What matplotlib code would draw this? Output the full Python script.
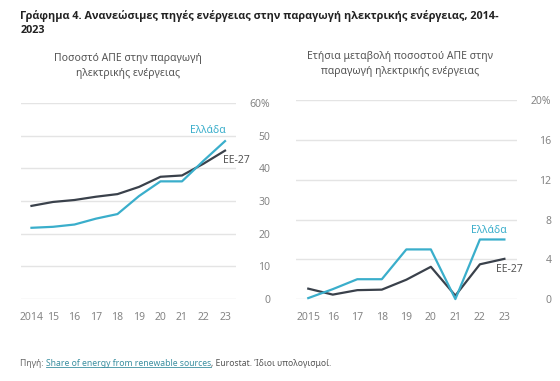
#! /usr/bin/env python3

import matplotlib
matplotlib.use('Agg')
import matplotlib.pyplot as plt
from matplotlib.lines import Line2D

plt.rcParams['font.family'] = ['Noto Sans', 'DejaVu Sans']

# Share of RES in electricity generation (%)
years_share = [2014, 2015, 2016, 2017, 2018, 2019, 2020, 2021, 2022, 2023]
share_labels = ['2014', '15', '16', '17', '18', '19', '20', '21', '22', '23']
greece_share = [21.8, 22.1, 22.8, 24.6, 26.0, 31.5, 36.0, 36.0, 42.3, 48.3]
eu_share = [28.5, 29.7, 30.3, 31.3, 32.1, 34.3, 37.4, 37.8, 41.4, 45.4]

# Annual change of RES share (%)
years_change = [2015, 2016, 2017, 2018, 2019, 2020, 2021, 2022, 2023]
change_labels = ['2015', '16', '17', '18', '19', '20', '21', '22', '23']
greece_change = [0.1, 1.0, 2.0, 2.0, 5.0, 5.0, 0.0, 6.0, 6.0]
eu_change = [1.05, 0.45, 0.9, 0.95, 1.95, 3.25, 0.35, 3.5, 4.05]

teal = '#3aaecb'
dark = '#3a414b'
grey = '#858585'
grid_c = '#e4e4e4'

fig = plt.figure(figsize=(5.6, 3.81), dpi=100)
ax1 = fig.add_axes([0.037, 0.215, 0.384, 0.515])
ax2 = fig.add_axes([0.5286, 0.215, 0.394, 0.5215])


def style(ax, xs, xlabels, yticks, ylabels, xlim):
    ax.set_xlim(*xlim)
    ax.set_ylim(yticks[0], yticks[-1])
    ax.set_xticks(xs)
    ax.set_xticklabels(xlabels)
    ax.set_yticks(yticks)
    ax.set_yticklabels(ylabels, ha='right')
    ax.yaxis.tick_right()
    for s in ax.spines.values():
        s.set_visible(False)
    ax.grid(axis='y', color=grid_c, linewidth=1)
    ax.set_axisbelow(True)
    ax.tick_params(axis='both', length=0, labelsize=7.5, colors=grey)
    ax.tick_params(axis='x', pad=9)
    ax.tick_params(axis='y', pad=25)


ax1.plot(years_share, eu_share, color=dark, lw=1.6, clip_on=False)
ax1.plot(years_share, greece_share, color=teal, lw=1.6, clip_on=False)
style(ax1, years_share, share_labels, [0, 10, 20, 30, 40, 50, 60],
      ['0', '10', '20', '30', '40', '50', '60%'], (2013.5, 2023.5))
ax1.text(2023.05, 51.5, 'Ελλάδα', color=teal, fontsize=7.5, ha='right', va='center')
ax1.text(2022.9, 42.3, 'ΕΕ-27', color='#555555', fontsize=7.5, ha='left', va='center')
ax1.set_title('Ποσοστό ΑΠΕ στην παραγωγή\nηλεκτρικής ενέργειας',
              fontsize=7.5, color='#555555', pad=19, linespacing=1.5)

ax2.plot(years_change, eu_change, color=dark, lw=1.6, clip_on=False)
ax2.plot(years_change, greece_change, color=teal, lw=1.6, clip_on=False)
style(ax2, years_change, change_labels, [0, 4, 8, 12, 16, 20],
      ['0', '4', '8', '12', '16', '20%'], (2014.5, 2023.5))
ax2.text(2023.08, 6.95, 'Ελλάδα', color=teal, fontsize=7.5, ha='right', va='center')
ax2.text(2022.67, 3.0, 'ΕΕ-27', color='#555555', fontsize=7.5, ha='left', va='center')
ax2.set_title('Ετήσια μεταβολή ποσοστού ΑΠΕ στην\nπαραγωγή ηλεκτρικής ενέργειας',
              fontsize=7.5, color='#555555', pad=19, linespacing=1.5, x=0.47)

fig.text(0.036, 0.975, 'Γράφημα 4. Ανανεώσιμες πηγές ενέργειας στην παραγωγή '
         'ηλεκτρικής ενέργειας, 2014-\n2023', fontsize=7.8, fontweight='bold',
         family=['Open Sans', 'DejaVu Sans'],
         color='#222222', va='top', ha='left', linespacing=1.45)

# source line, pieced together
ys = 0.04
t1 = fig.text(0.036, ys, 'Πηγή: ', fontsize=6.2, color='#666666', va='baseline')
t2 = fig.text(0, 0, 'Share of energy from renewable sources', fontsize=6.2,
              color='#3a8fa0', va='baseline')
t3 = fig.text(0, 0, ', Eurostat. Ίδιοι υπολογισμοί.', fontsize=6.2,
              color='#555555', va='baseline')
fig.canvas.draw()
r = fig.canvas.get_renderer()
b1 = t1.get_window_extent(r)
t2.set_position((b1.x1 / fig.bbox.width, ys))
fig.canvas.draw()
b2 = t2.get_window_extent(r)
t3.set_position((b2.x1 / fig.bbox.width, ys))
uy = (ys * fig.bbox.height - 1.5) / fig.bbox.height
fig.add_artist(Line2D([b2.x0 / fig.bbox.width, b2.x1 / fig.bbox.width], [uy, uy],
                      color='#3a8fa0', lw=0.6, transform=fig.transFigure))

fig.savefig('out.png', dpi=100)
